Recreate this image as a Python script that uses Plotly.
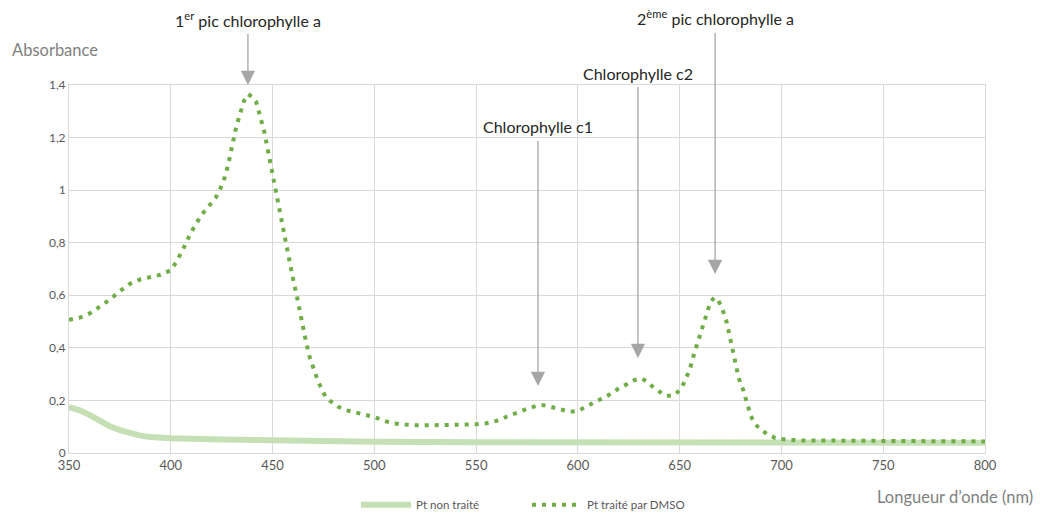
import plotly.graph_objects as go

# longueurs d'onde (nm) et absorbance - plante traitee par DMSO
nm_dmso = [350, 355, 360, 365, 370, 375, 380, 385, 390, 395, 400, 403, 406, 410,
           415, 419, 422, 424, 426, 428, 430, 432, 434, 436, 438, 440, 442, 444,
           446, 448, 450, 452, 454, 456, 458, 460, 462, 464, 466, 468, 470, 472,
           474, 476, 478, 482, 486, 490, 495, 500, 505, 510, 515, 520, 530, 540,
           550, 555, 560, 565, 570, 575, 580, 583, 587, 592, 596, 600, 605, 610,
           615, 620, 625, 628, 631, 634, 637, 640, 643, 646, 648, 651, 653, 655,
           657, 659, 661, 663, 665, 667, 669, 671, 673, 675, 677, 679, 681, 683,
           685, 687, 690, 693, 697, 702, 710, 750, 800]
abs_dmso = [0.507, 0.514, 0.530, 0.555, 0.583, 0.616, 0.644, 0.660, 0.669, 0.678,
            0.695, 0.730, 0.775, 0.840, 0.905, 0.940, 0.970, 1.000, 1.035, 1.090,
            1.165, 1.235, 1.290, 1.340, 1.365, 1.355, 1.335, 1.280, 1.220, 1.140,
            1.060, 0.980, 0.890, 0.810, 0.740, 0.665, 0.594, 0.510, 0.440, 0.370,
            0.320, 0.280, 0.245, 0.215, 0.200, 0.177, 0.163, 0.155, 0.145, 0.137,
            0.122, 0.112, 0.108, 0.106, 0.106, 0.107, 0.109, 0.113, 0.122, 0.138,
            0.155, 0.168, 0.180, 0.182, 0.175, 0.165, 0.157, 0.160, 0.179, 0.199,
            0.220, 0.245, 0.268, 0.278, 0.284, 0.272, 0.250, 0.235, 0.218, 0.218,
            0.224, 0.248, 0.280, 0.318, 0.375, 0.425, 0.480, 0.530, 0.572, 0.592,
            0.580, 0.548, 0.500, 0.430, 0.360, 0.285, 0.245, 0.195, 0.140, 0.110,
            0.088, 0.072, 0.057, 0.051, 0.048, 0.046, 0.044]

# plante non traitee
nm_nt = [350, 355, 360, 365, 370, 375, 380, 385, 390, 400, 425, 450, 500, 550,
         600, 650, 700, 750, 800]
abs_nt = [0.175, 0.163, 0.145, 0.122, 0.102, 0.087, 0.074, 0.066, 0.061, 0.056,
          0.051, 0.047, 0.043, 0.041, 0.040, 0.039, 0.039, 0.039, 0.039]

# annotations : (texte, longueur d'onde, absorbance de la pointe, decalage texte en px)
pics = [("1<sup>er</sup> pic chlorophylle a", 437.9, 1.4, -66),
        ("Chlorophylle c1", 580.4, 0.255, -259),
        ("Chlorophylle c2", 629.5, 0.361, -285),
        ("2<sup>ème</sup> pic chlorophylle a", 667.4, 0.681, -256)]

police = "Lato, 'Liberation Sans', sans-serif"
gris = "#595959"

fig = go.Figure()
fig.add_trace(go.Scatter(x=nm_nt, y=abs_nt, mode="lines", name="Pt non traité",
                         line=dict(color="#c5e0b4", width=6)))
fig.add_trace(go.Scatter(x=nm_dmso, y=abs_dmso, mode="lines", name="Pt traité par DMSO",
                         line=dict(color="#70ad47", width=4, dash="4px,6px")))

for texte, x, y, decal in pics:
    fig.add_annotation(x=x, y=y, xref="x", yref="y", text=texte, showarrow=True,
                       ax=0, ay=decal, arrowhead=2, arrowsize=2.2, arrowwidth=1.3,
                       arrowcolor="#a6a6a6", borderpad=4,
                       font=dict(family=police, size=16, color="#262626"))

fig.add_annotation(x=-0.0644, y=1.095, xref="paper", yref="paper", text="Absorbance",
                   showarrow=False, xanchor="left", yanchor="middle",
                   font=dict(family=police, size=16.5, color="#7f7f7f"))
fig.add_annotation(x=1.0546, y=-0.12, xref="paper", yref="paper",
                   text="Longueur d’onde (nm)", showarrow=False,
                   xanchor="right", yanchor="middle",
                   font=dict(family=police, size=16.5, color="#7f7f7f"))

fig.update_xaxes(range=[350, 800], dtick=50, showgrid=True, gridcolor="#d9d9d9",
                 zeroline=False, showline=True, linecolor="#d9d9d9", mirror=True,
                 ticks="", tickfont=dict(family=police, size=13, color=gris))
fig.update_yaxes(range=[0, 1.4], dtick=0.2, showgrid=True, gridcolor="#d9d9d9",
                 zeroline=False, showline=True, linecolor="#d9d9d9", mirror=True,
                 ticks="", tickfont=dict(family=police, size=12, color=gris))

fig.update_layout(width=1040, height=513, separators=", ",
                  margin=dict(l=69, r=55, t=85, b=60),
                  plot_bgcolor="white", paper_bgcolor="white",
                  font=dict(family=police, color=gris),
                  legend=dict(orientation="h", x=0.5, xanchor="center",
                              yref="container", y=0.016, yanchor="middle",
                              itemwidth=50, entrywidth=106,
                              font=dict(size=11.5, color=gris)))

# la page html a une marge de 8px par defaut
fig.write_html("out.html", config={"displayModeBar": False},
               post_script="document.body.style.margin='0';")
